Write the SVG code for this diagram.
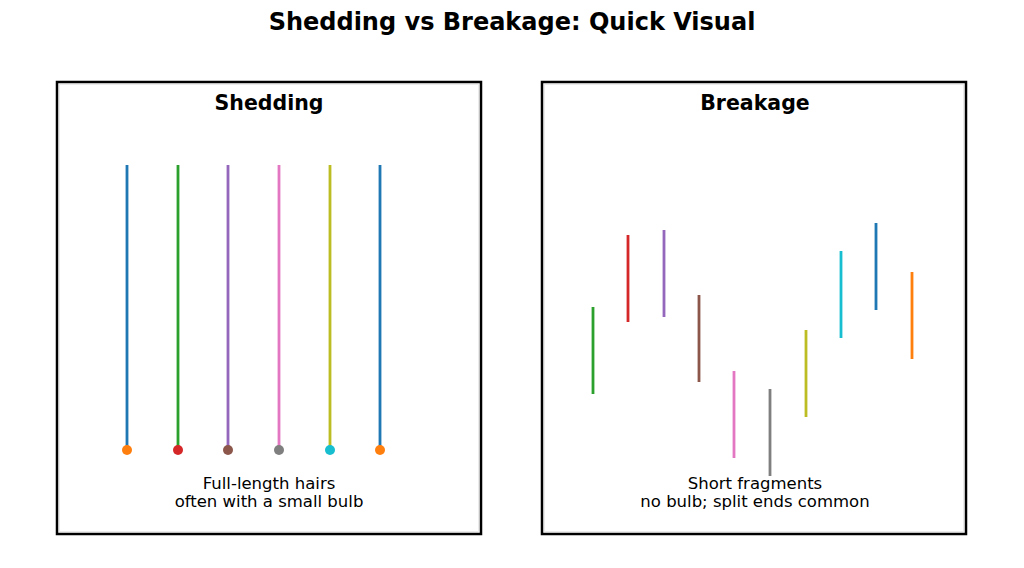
<svg xmlns="http://www.w3.org/2000/svg" width="1024" height="568" viewBox="0 0 1024 568">
<style>
text{font-family:"DejaVu Sans",sans-serif;fill:#000}
.t{font-size:24px;font-weight:bold}
.h{font-size:20.5px;font-weight:bold}
.c{font-size:16.5px}
.box{fill:#fff;stroke:#000;stroke-width:2.5}
.inner{fill:none;stroke:#ebebeb;stroke-width:1}
.hair{stroke-width:2.8;fill:none}
</style>
<rect width="1024" height="568" fill="#fff"/>
<text class="t" x="512" y="30" text-anchor="middle">Shedding vs Breakage: Quick Visual</text>
<g id="shedding">
<rect class="box" x="57" y="82" width="424" height="452"/>
<rect class="inner" x="59.5" y="84.5" width="419" height="447"/>
<text class="h" x="269" y="110" text-anchor="middle">Shedding</text>
<line class="hair" x1="127" y1="165" x2="127" y2="450" stroke="#1f77b4"/>
<line class="hair" x1="178" y1="165" x2="178" y2="450" stroke="#2ca02c"/>
<line class="hair" x1="228" y1="165" x2="228" y2="450" stroke="#9467bd"/>
<line class="hair" x1="279" y1="165" x2="279" y2="450" stroke="#e377c2"/>
<line class="hair" x1="330" y1="165" x2="330" y2="450" stroke="#bcbd22"/>
<line class="hair" x1="380" y1="165" x2="380" y2="450" stroke="#1f77b4"/>
<circle cx="127" cy="450" r="5" fill="#ff7f0e"/>
<circle cx="178" cy="450" r="5" fill="#d62728"/>
<circle cx="228" cy="450" r="5" fill="#8c564b"/>
<circle cx="279" cy="450" r="5" fill="#7f7f7f"/>
<circle cx="330" cy="450" r="5" fill="#17becf"/>
<circle cx="380" cy="450" r="5" fill="#ff7f0e"/>
<text class="c" x="269" y="489" text-anchor="middle">Full-length hairs</text>
<text class="c" x="269" y="507" text-anchor="middle">often with a small bulb</text>
</g>
<g id="breakage">
<rect class="box" x="542" y="82" width="424" height="452"/>
<rect class="inner" x="544.5" y="84.5" width="419" height="447"/>
<text class="h" x="755" y="110" text-anchor="middle">Breakage</text>
<line class="hair" x1="593" y1="307" x2="593" y2="394" stroke="#2ca02c"/>
<line class="hair" x1="628" y1="235" x2="628" y2="322" stroke="#d62728"/>
<line class="hair" x1="664" y1="230" x2="664" y2="317" stroke="#9467bd"/>
<line class="hair" x1="699" y1="295" x2="699" y2="382" stroke="#8c564b"/>
<line class="hair" x1="734" y1="371" x2="734" y2="458" stroke="#e377c2"/>
<line class="hair" x1="770" y1="389" x2="770" y2="476" stroke="#7f7f7f"/>
<line class="hair" x1="806" y1="330" x2="806" y2="417" stroke="#bcbd22"/>
<line class="hair" x1="841" y1="251" x2="841" y2="338" stroke="#17becf"/>
<line class="hair" x1="876" y1="223" x2="876" y2="310" stroke="#1f77b4"/>
<line class="hair" x1="912" y1="272" x2="912" y2="359" stroke="#ff7f0e"/>
<text class="c" x="755" y="489" text-anchor="middle">Short fragments</text>
<text class="c" x="755" y="507" text-anchor="middle">no bulb; split ends common</text>
</g>
<g id="connectors"/>
</svg>
